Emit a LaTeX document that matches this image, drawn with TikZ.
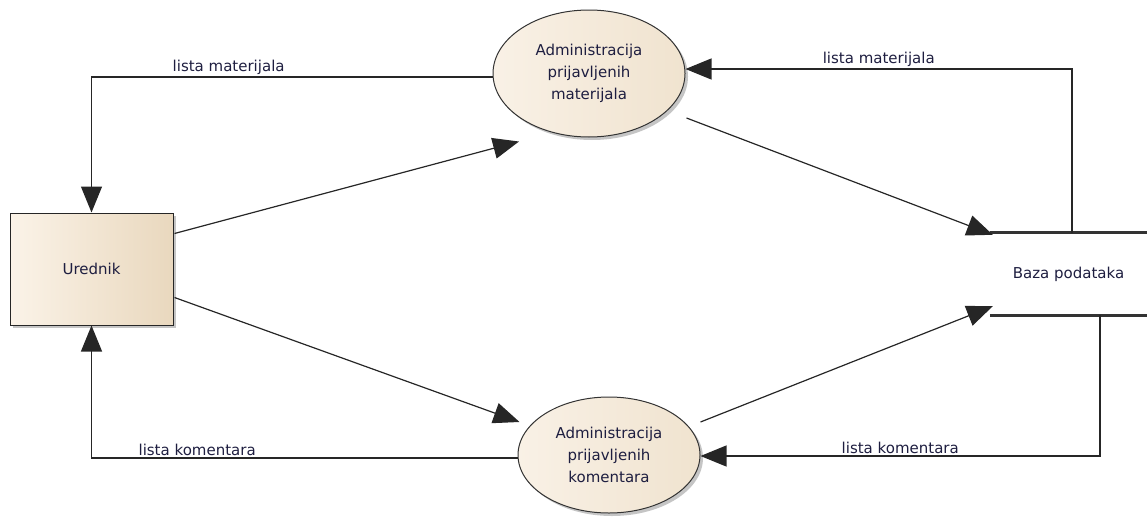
\documentclass[tikz,border=0pt]{standalone}
\usepackage{fontspec}
\setmainfont{DejaVu Sans}
\usetikzlibrary{arrows.meta,calc,shapes.geometric,shadows}

\definecolor{ink}{HTML}{1E1E40}
\definecolor{wire}{HTML}{262626}
\definecolor{entL}{HTML}{FBF3E8}
\definecolor{entR}{HTML}{E9D8BE}
\definecolor{procL}{HTML}{F9F1E6}
\definecolor{procR}{HTML}{F0E3CF}

\begin{document}
\begin{tikzpicture}[x=1pt,y=-1pt,
  every node/.style={font=\fontsize{15}{22}\selectfont, text=ink},
  entity/.style={rectangle, draw=black!85, line width=1pt, inner sep=0pt,
    minimum width=163pt, minimum height=112pt, left color=entL, right color=entR,
    drop shadow={shadow xshift=3pt, shadow yshift=-3pt, fill=black!45, opacity=.5}},
  proc/.style={ellipse, draw=black!80, line width=1pt, inner sep=0pt, align=center,
    left color=procL, right color=procR,
    drop shadow={shadow xshift=3pt, shadow yshift=-3pt, fill=black!45, opacity=.5}},
  store/.style={rectangle, inner sep=0pt, minimum width=157pt, minimum height=82pt},
  storeline/.style={draw=black!80, line width=3pt},
  flow/.style={draw=wire, line width=1.2pt, -{Triangle[length=26pt,width=21pt]}},
  flowlabel/.style={anchor=south, inner sep=2pt},
]
\useasboundingbox (0,0) rectangle (1147,522);

% external entity, processes and data store
\node[entity] (ured) at (91.5,269) {Urednik};
\node[proc, minimum width=192pt, minimum height=127pt] (adm1) at (589,73.5)
  {Administracija\\prijavljenih\\materijala};
\node[proc, minimum width=182pt, minimum height=116pt] (adm2) at (609,455)
  {Administracija\\prijavljenih\\komentara};
\node[store] (baza) at (1068.5,274) {Baza podataka};
\draw[storeline] (baza.north west) -- (baza.north east);
\draw[storeline] (baza.south west) -- (baza.south east);

% data flows
\draw[flow] ($(adm1.west)+(0,3.5)$) -| (ured.north)
  node[flowlabel, pos=.329] {lista materijala};
\draw[flow] ($(ured.north east)+(1,21)$) -- ($(adm1.south)+(-70,4)$);
\draw[flow] ($(adm1.east)+(1,44.5)$) -- ($(baza.north west)+(3,2)$);
\draw[flow] ($(baza.north)+(3.5,0)$) |- ($(adm1.east)+(0,-4.5)$)
  node[flowlabel, pos=.75] {lista materijala};

\draw[flow] ($(ured.south east)+(1,-28)$) -- ($(adm2.west)+(2,-33)$);
\draw[flow] ($(adm2.east)+(0,-33)$) -- ($(baza.south west)+(3,-9)$);
\draw[flow] ($(baza.south)+(31.5,0)$) |- ($(adm2.east)+(0,1)$)
  node[flowlabel, pos=.75] {lista komentara};
\draw[flow] ($(adm2.west)+(0,3)$) -| (ured.south)
  node[flowlabel, pos=.376] {lista komentara};
\end{tikzpicture}
\end{document}
